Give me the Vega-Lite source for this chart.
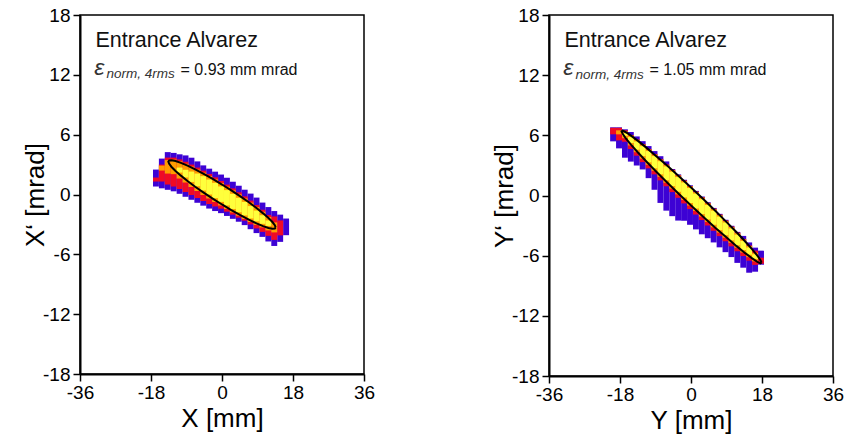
{
  "$schema": "https://vega.github.io/schema/vega-lite/v6.json",
  "padding": {"left": 21, "top": 5, "right": 5, "bottom": 0},
  "spacing": 114,
  "config": {
    "font": "Liberation Sans",
    "view": {"stroke": "#000", "strokeWidth": 1.5},
    "axis": {"domainColor": "#000", "domainWidth": 2, "tickColor": "#000", "tickWidth": 1.5, "tickSize": 7, "labelFontSize": 19, "labelColor": "#000", "titleFontSize": 26, "titleFontWeight": "normal", "titleColor": "#000", "grid": false, "labelFlush": false, "labelOverlap": false, "labelPadding": 2, "labelExpr": "'' + datum.value"},
    "axisX": {"titlePadding": 3},
    "axisY": {"titlePadding": -6, "labelPadding": 3}
  },
  "datasets": {
    "lcells": [
      {"a":-17.5,"b":-16,"l":1,"lo":0.8,"hi":2.5},
      {"a":-16,"b":-14.5,"l":1,"lo":0.62,"hi":3.6},
      {"a":-14.5,"b":-13,"l":1,"lo":0.47,"hi":4.25},
      {"a":-13,"b":-11.5,"l":1,"lo":0.32,"hi":4.17},
      {"a":-11.5,"b":-10,"l":1,"lo":0.07,"hi":4.03},
      {"a":-10,"b":-8.5,"l":1,"lo":-0.23,"hi":3.92},
      {"a":-8.5,"b":-7,"l":1,"lo":-0.53,"hi":3.69},
      {"a":-7,"b":-5.5,"l":1,"lo":-0.83,"hi":3.32},
      {"a":-5.5,"b":-4,"l":1,"lo":-1.12,"hi":2.92},
      {"a":-4,"b":-2.5,"l":1,"lo":-1.41,"hi":2.59},
      {"a":-2.5,"b":-1,"l":1,"lo":-1.66,"hi":2.29},
      {"a":-1,"b":0.5,"l":1,"lo":-1.87,"hi":2.0},
      {"a":0.5,"b":2,"l":1,"lo":-2.15,"hi":1.68},
      {"a":2,"b":3.5,"l":1,"lo":-2.44,"hi":1.28},
      {"a":3.5,"b":5,"l":1,"lo":-2.73,"hi":0.88},
      {"a":5,"b":6.5,"l":1,"lo":-3.07,"hi":0.48},
      {"a":6.5,"b":8,"l":1,"lo":-3.48,"hi":0.09},
      {"a":8,"b":9.5,"l":1,"lo":-3.87,"hi":-0.31},
      {"a":9.5,"b":11,"l":1,"lo":-4.25,"hi":-0.81},
      {"a":11,"b":12.5,"l":1,"lo":-4.71,"hi":-1.26},
      {"a":12.5,"b":14,"l":1,"lo":-5.16,"hi":-1.66},
      {"a":14,"b":15.5,"l":1,"lo":-4.75,"hi":-2.02},
      {"a":15.5,"b":17,"l":1,"lo":-4.08,"hi":-2.41},
      {"a":-17.5,"b":-16,"l":2,"lo":1.3,"hi":1.7},
      {"a":-16,"b":-14.5,"l":2,"lo":1.3,"hi":3.0},
      {"a":-14.5,"b":-13,"l":2,"lo":1.0,"hi":3.7},
      {"a":-13,"b":-11.5,"l":2,"lo":0.8,"hi":3.7},
      {"a":-11.5,"b":-10,"l":2,"lo":0.55,"hi":3.52},
      {"a":-10,"b":-8.5,"l":2,"lo":0.25,"hi":3.28},
      {"a":-8.5,"b":-7,"l":2,"lo":-0.05,"hi":3.0},
      {"a":-7,"b":-5.5,"l":2,"lo":-0.35,"hi":2.7},
      {"a":-5.5,"b":-4,"l":2,"lo":-0.65,"hi":2.39},
      {"a":-4,"b":-2.5,"l":2,"lo":-0.95,"hi":2.06},
      {"a":-2.5,"b":-1,"l":2,"lo":-1.2,"hi":1.72},
      {"a":-1,"b":0.5,"l":2,"lo":-1.42,"hi":1.36},
      {"a":0.5,"b":2,"l":2,"lo":-1.72,"hi":0.99},
      {"a":2,"b":3.5,"l":2,"lo":-2.02,"hi":0.61},
      {"a":3.5,"b":5,"l":2,"lo":-2.32,"hi":0.22},
      {"a":5,"b":6.5,"l":2,"lo":-2.62,"hi":-0.19},
      {"a":6.5,"b":8,"l":2,"lo":-3.0,"hi":-0.61},
      {"a":8,"b":9.5,"l":2,"lo":-3.4,"hi":-1.06},
      {"a":9.5,"b":11,"l":2,"lo":-3.75,"hi":-1.53},
      {"a":11,"b":12.5,"l":2,"lo":-4.15,"hi":-2.05},
      {"a":12.5,"b":14,"l":2,"lo":-4.55,"hi":-2.2},
      {"a":14,"b":15.5,"l":2,"lo":-4.1,"hi":-2.6},
      {"a":-16,"b":-14.5,"l":3,"lo":2.4,"hi":2.9},
      {"a":-14.5,"b":-13,"l":3,"lo":2.1,"hi":3.45},
      {"a":-13,"b":-11.5,"l":3,"lo":2.04,"hi":3.5},
      {"a":-11.5,"b":-10,"l":3,"lo":1.6,"hi":3.32},
      {"a":-10,"b":-8.5,"l":3,"lo":1.2,"hi":3.08},
      {"a":-8.5,"b":-7,"l":3,"lo":0.75,"hi":2.8},
      {"a":-7,"b":-5.5,"l":3,"lo":0.35,"hi":2.5},
      {"a":-5.5,"b":-4,"l":3,"lo":-0.05,"hi":2.19},
      {"a":-4,"b":-2.5,"l":3,"lo":-0.4,"hi":1.86},
      {"a":-2.5,"b":-1,"l":3,"lo":-0.75,"hi":1.52},
      {"a":-1,"b":0.5,"l":3,"lo":-1.1,"hi":1.16},
      {"a":0.5,"b":2,"l":3,"lo":-1.45,"hi":0.79},
      {"a":2,"b":3.5,"l":3,"lo":-1.8,"hi":0.41},
      {"a":3.5,"b":5,"l":3,"lo":-2.13,"hi":0.02},
      {"a":5,"b":6.5,"l":3,"lo":-2.45,"hi":-0.39},
      {"a":6.5,"b":8,"l":3,"lo":-2.76,"hi":-0.81},
      {"a":8,"b":9.5,"l":3,"lo":-3.05,"hi":-1.26},
      {"a":9.5,"b":11,"l":3,"lo":-3.3,"hi":-1.73},
      {"a":11,"b":12.5,"l":3,"lo":-3.6,"hi":-2.25},
      {"a":12.5,"b":14,"l":3,"lo":-3.8,"hi":-2.8},
      {"a":-11.5,"b":-10,"l":4,"lo":2.2,"hi":2.7},
      {"a":-10,"b":-8.5,"l":4,"lo":1.71,"hi":2.48},
      {"a":-8.5,"b":-7,"l":4,"lo":1.26,"hi":2.3},
      {"a":-7,"b":-5.5,"l":4,"lo":0.83,"hi":2.1},
      {"a":-5.5,"b":-4,"l":4,"lo":0.4,"hi":1.84},
      {"a":-4,"b":-2.5,"l":4,"lo":0.0,"hi":1.5},
      {"a":-2.5,"b":-1,"l":4,"lo":-0.37,"hi":1.17},
      {"a":-1,"b":0.5,"l":4,"lo":-0.74,"hi":0.81},
      {"a":0.5,"b":2,"l":4,"lo":-1.1,"hi":0.44},
      {"a":2,"b":3.5,"l":4,"lo":-1.45,"hi":0.06},
      {"a":3.5,"b":5,"l":4,"lo":-1.78,"hi":-0.33},
      {"a":5,"b":6.5,"l":4,"lo":-2.1,"hi":-0.74},
      {"a":6.5,"b":8,"l":4,"lo":-2.4,"hi":-1.16},
      {"a":8,"b":9.5,"l":4,"lo":-2.69,"hi":-1.61},
      {"a":9.5,"b":11,"l":4,"lo":-2.94,"hi":-2.08},
      {"a":11,"b":12.5,"l":4,"lo":-3.15,"hi":-2.6}
    ],
    "rcells": [
      {"a":-20.5,"b":-19,"l":1,"lo":5.4,"hi":6.8},
      {"a":-19,"b":-17.5,"l":1,"lo":4.7,"hi":6.8},
      {"a":-17.5,"b":-16,"l":1,"lo":3.77,"hi":6.6},
      {"a":-16,"b":-14.5,"l":1,"lo":3.38,"hi":6.33},
      {"a":-14.5,"b":-13,"l":1,"lo":2.99,"hi":5.89},
      {"a":-13,"b":-11.5,"l":1,"lo":2.6,"hi":5.42},
      {"a":-11.5,"b":-10,"l":1,"lo":1.73,"hi":4.93},
      {"a":-10,"b":-8.5,"l":1,"lo":0.57,"hi":4.43},
      {"a":-8.5,"b":-7,"l":1,"lo":-0.74,"hi":3.92},
      {"a":-7,"b":-5.5,"l":1,"lo":-1.51,"hi":3.4},
      {"a":-5.5,"b":-4,"l":1,"lo":-2.06,"hi":2.64},
      {"a":-4,"b":-2.5,"l":1,"lo":-2.5,"hi":2.11},
      {"a":-2.5,"b":-1,"l":1,"lo":-2.52,"hi":1.57},
      {"a":-1,"b":0.5,"l":1,"lo":-2.92,"hi":1.02},
      {"a":0.5,"b":2,"l":1,"lo":-3.38,"hi":0.46},
      {"a":2,"b":3.5,"l":1,"lo":-3.87,"hi":-0.1},
      {"a":3.5,"b":5,"l":1,"lo":-4.26,"hi":-0.67},
      {"a":5,"b":6.5,"l":1,"lo":-4.68,"hi":-1.24},
      {"a":6.5,"b":8,"l":1,"lo":-5.17,"hi":-1.83},
      {"a":8,"b":9.5,"l":1,"lo":-5.65,"hi":-2.42},
      {"a":9.5,"b":11,"l":1,"lo":-6.14,"hi":-3.02},
      {"a":11,"b":12.5,"l":1,"lo":-6.72,"hi":-3.63},
      {"a":12.5,"b":14,"l":1,"lo":-7.2,"hi":-4.03},
      {"a":14,"b":15.5,"l":1,"lo":-7.7,"hi":-4.68},
      {"a":15.5,"b":17,"l":1,"lo":-7.6,"hi":-5.2},
      {"a":17,"b":18.5,"l":1,"lo":-6.9,"hi":-5.5},
      {"a":-20.5,"b":-19,"l":2,"lo":6.1,"hi":6.75},
      {"a":-19,"b":-17.5,"l":2,"lo":5.5,"hi":6.75},
      {"a":-17.5,"b":-16,"l":2,"lo":5.36,"hi":6.5},
      {"a":-16,"b":-14.5,"l":2,"lo":4.64,"hi":6.03},
      {"a":-14.5,"b":-13,"l":2,"lo":3.97,"hi":5.59},
      {"a":-13,"b":-11.5,"l":2,"lo":3.33,"hi":5.12},
      {"a":-11.5,"b":-10,"l":2,"lo":2.71,"hi":4.63},
      {"a":-10,"b":-8.5,"l":2,"lo":2.11,"hi":4.13},
      {"a":-8.5,"b":-7,"l":2,"lo":1.51,"hi":3.62},
      {"a":-7,"b":-5.5,"l":2,"lo":0.92,"hi":3.1},
      {"a":-5.5,"b":-4,"l":2,"lo":0.34,"hi":2.57},
      {"a":-4,"b":-2.5,"l":2,"lo":-0.23,"hi":2.04},
      {"a":-2.5,"b":-1,"l":2,"lo":-0.79,"hi":1.5},
      {"a":-1,"b":0.5,"l":2,"lo":-1.35,"hi":0.95},
      {"a":0.5,"b":2,"l":2,"lo":-1.9,"hi":0.39},
      {"a":2,"b":3.5,"l":2,"lo":-2.45,"hi":-0.17},
      {"a":3.5,"b":5,"l":2,"lo":-2.99,"hi":-0.74},
      {"a":5,"b":6.5,"l":2,"lo":-3.52,"hi":-1.31},
      {"a":6.5,"b":8,"l":2,"lo":-4.05,"hi":-1.9},
      {"a":8,"b":9.5,"l":2,"lo":-4.56,"hi":-2.49},
      {"a":9.5,"b":11,"l":2,"lo":-5.07,"hi":-3.09},
      {"a":11,"b":12.5,"l":2,"lo":-5.56,"hi":-3.7},
      {"a":12.5,"b":14,"l":2,"lo":-6.04,"hi":-4.33},
      {"a":14,"b":15.5,"l":2,"lo":-6.5,"hi":-4.98},
      {"a":15.5,"b":17,"l":2,"lo":-6.92,"hi":-5.5},
      {"a":17,"b":18.5,"l":2,"lo":-6.8,"hi":-6.2},
      {"a":-19,"b":-17.5,"l":3,"lo":6.1,"hi":6.5},
      {"a":-17.5,"b":-16,"l":3,"lo":5.71,"hi":6.4},
      {"a":-16,"b":-14.5,"l":3,"lo":4.99,"hi":5.98},
      {"a":-14.5,"b":-13,"l":3,"lo":4.32,"hi":5.54},
      {"a":-13,"b":-11.5,"l":3,"lo":3.68,"hi":5.07},
      {"a":-11.5,"b":-10,"l":3,"lo":3.06,"hi":4.58},
      {"a":-10,"b":-8.5,"l":3,"lo":2.46,"hi":4.08},
      {"a":-8.5,"b":-7,"l":3,"lo":1.86,"hi":3.57},
      {"a":-7,"b":-5.5,"l":3,"lo":1.27,"hi":3.05},
      {"a":-5.5,"b":-4,"l":3,"lo":0.69,"hi":2.52},
      {"a":-4,"b":-2.5,"l":3,"lo":0.12,"hi":1.99},
      {"a":-2.5,"b":-1,"l":3,"lo":-0.44,"hi":1.45},
      {"a":-1,"b":0.5,"l":3,"lo":-1.0,"hi":0.9},
      {"a":0.5,"b":2,"l":3,"lo":-1.55,"hi":0.34},
      {"a":2,"b":3.5,"l":3,"lo":-2.1,"hi":-0.22},
      {"a":3.5,"b":5,"l":3,"lo":-2.64,"hi":-0.79},
      {"a":5,"b":6.5,"l":3,"lo":-3.17,"hi":-1.36},
      {"a":6.5,"b":8,"l":3,"lo":-3.7,"hi":-1.95},
      {"a":8,"b":9.5,"l":3,"lo":-4.21,"hi":-2.54},
      {"a":9.5,"b":11,"l":3,"lo":-4.72,"hi":-3.14},
      {"a":11,"b":12.5,"l":3,"lo":-5.21,"hi":-3.75},
      {"a":12.5,"b":14,"l":3,"lo":-5.69,"hi":-4.38},
      {"a":14,"b":15.5,"l":3,"lo":-6.15,"hi":-5.03},
      {"a":15.5,"b":17,"l":3,"lo":-6.57,"hi":-5.71},
      {"a":-17.5,"b":-16,"l":4,"lo":5.96,"hi":6.21},
      {"a":-16,"b":-14.5,"l":4,"lo":5.24,"hi":5.83},
      {"a":-14.5,"b":-13,"l":4,"lo":4.57,"hi":5.39},
      {"a":-13,"b":-11.5,"l":4,"lo":3.93,"hi":4.92},
      {"a":-11.5,"b":-10,"l":4,"lo":3.31,"hi":4.43},
      {"a":-10,"b":-8.5,"l":4,"lo":2.71,"hi":3.93},
      {"a":-8.5,"b":-7,"l":4,"lo":2.11,"hi":3.42},
      {"a":-7,"b":-5.5,"l":4,"lo":1.52,"hi":2.9},
      {"a":-5.5,"b":-4,"l":4,"lo":0.94,"hi":2.37},
      {"a":-4,"b":-2.5,"l":4,"lo":0.37,"hi":1.84},
      {"a":-2.5,"b":-1,"l":4,"lo":-0.19,"hi":1.3},
      {"a":-1,"b":0.5,"l":4,"lo":-0.75,"hi":0.75},
      {"a":0.5,"b":2,"l":4,"lo":-1.3,"hi":0.19},
      {"a":2,"b":3.5,"l":4,"lo":-1.85,"hi":-0.37},
      {"a":3.5,"b":5,"l":4,"lo":-2.39,"hi":-0.94},
      {"a":5,"b":6.5,"l":4,"lo":-2.92,"hi":-1.51},
      {"a":6.5,"b":8,"l":4,"lo":-3.45,"hi":-2.1},
      {"a":8,"b":9.5,"l":4,"lo":-3.96,"hi":-2.69},
      {"a":9.5,"b":11,"l":4,"lo":-4.47,"hi":-3.29},
      {"a":11,"b":12.5,"l":4,"lo":-4.96,"hi":-3.9},
      {"a":12.5,"b":14,"l":4,"lo":-5.44,"hi":-4.53},
      {"a":14,"b":15.5,"l":4,"lo":-5.9,"hi":-5.18},
      {"a":15.5,"b":17,"l":4,"lo":-6.32,"hi":-5.86}
    ],
    "lell": [
      {"t":0,"x":13.6,"y":-3.3},{"t":10,"x":13.39,"y":-3.08},{"t":20,"x":12.78,"y":-2.76},{"t":30,"x":11.78,"y":-2.36},
      {"t":40,"x":10.42,"y":-1.89},{"t":50,"x":8.74,"y":-1.36},{"t":60,"x":6.8,"y":-0.78},{"t":70,"x":4.65,"y":-0.19},
      {"t":80,"x":2.36,"y":0.41},{"t":90,"x":0,"y":1.0},{"t":100,"x":-2.36,"y":1.56},{"t":110,"x":-4.65,"y":2.07},
      {"t":120,"x":-6.8,"y":2.52},{"t":130,"x":-8.74,"y":2.89},{"t":140,"x":-10.42,"y":3.17},{"t":150,"x":-11.78,"y":3.36},
      {"t":160,"x":-12.78,"y":3.44},{"t":170,"x":-13.39,"y":3.42},{"t":180,"x":-13.6,"y":3.3},{"t":190,"x":-13.39,"y":3.08},
      {"t":200,"x":-12.78,"y":2.76},{"t":210,"x":-11.78,"y":2.36},{"t":220,"x":-10.42,"y":1.89},{"t":230,"x":-8.74,"y":1.36},
      {"t":240,"x":-6.8,"y":0.78},{"t":250,"x":-4.65,"y":0.19},{"t":260,"x":-2.36,"y":-0.41},{"t":270,"x":0,"y":-1.0},
      {"t":280,"x":2.36,"y":-1.56},{"t":290,"x":4.65,"y":-2.07},{"t":300,"x":6.8,"y":-2.52},{"t":310,"x":8.74,"y":-2.89},
      {"t":320,"x":10.42,"y":-3.17},{"t":330,"x":11.78,"y":-3.36},{"t":340,"x":12.78,"y":-3.44},{"t":350,"x":13.39,"y":-3.42},
      {"t":360,"x":13.6,"y":-3.3}
    ],
    "rell": [
      {"t":0,"x":17.9,"y":-6.7},{"t":10,"x":17.63,"y":-6.45},{"t":20,"x":16.83,"y":-6.0},{"t":30,"x":15.52,"y":-5.37},
      {"t":40,"x":13.75,"y":-4.59},{"t":50,"x":11.56,"y":-3.67},{"t":60,"x":9.03,"y":-2.65},{"t":70,"x":6.22,"y":-1.54},
      {"t":80,"x":3.23,"y":-0.4},{"t":90,"x":0.15,"y":0.75},{"t":100,"x":-2.93,"y":1.87},{"t":110,"x":-5.92,"y":2.94},
      {"t":120,"x":-8.73,"y":3.9},{"t":130,"x":-11.26,"y":4.75},{"t":140,"x":-13.45,"y":5.45},{"t":150,"x":-15.22,"y":5.97},
      {"t":160,"x":-16.53,"y":6.31},{"t":170,"x":-17.33,"y":6.46},{"t":180,"x":-17.6,"y":6.4},{"t":190,"x":-17.33,"y":6.15},
      {"t":200,"x":-16.53,"y":5.7},{"t":210,"x":-15.22,"y":5.07},{"t":220,"x":-13.45,"y":4.29},{"t":230,"x":-11.26,"y":3.37},
      {"t":240,"x":-8.73,"y":2.35},{"t":250,"x":-5.92,"y":1.24},{"t":260,"x":-2.93,"y":0.1},{"t":270,"x":0.15,"y":-1.05},
      {"t":280,"x":3.23,"y":-2.17},{"t":290,"x":6.22,"y":-3.24},{"t":300,"x":9.03,"y":-4.2},{"t":310,"x":11.56,"y":-5.05},
      {"t":320,"x":13.75,"y":-5.75},{"t":330,"x":15.52,"y":-6.27},{"t":340,"x":16.83,"y":-6.61},{"t":350,"x":17.63,"y":-6.76},
      {"t":360,"x":17.9,"y":-6.7}
    ],
    "head": [{"x":-32.1,"y":14.8,"t":"Entrance Alvarez"}],
    "eps": [{"x":-32.4,"y":12.0,"t":"ε"}],
    "sub": [{"x":-29.3,"y":11.65,"t":"norm, 4rms"}],
    "lval": [{"x":-10.5,"y":12.0,"t":"= 0.93 mm mrad"}],
    "rval": [{"x":-10.5,"y":12.0,"t":"= 1.05 mm mrad"}]
  },
  "hconcat": [
    {
      "width": 284, "height": 359,
      "layer": [
        {
          "data": {"name": "lcells"},
          "mark": {"type": "rect"},
          "encoding": {
            "x": {"field": "a", "type": "quantitative", "scale": {"domain": [-36, 36], "nice": false, "zero": false}, "axis": {"values": [-36, -18, 0, 18, 36], "title": "X [mm]"}},
            "x2": {"field": "b"},
            "y": {"field": "lo", "type": "quantitative", "scale": {"domain": [-18, 18], "nice": false, "zero": false}, "axis": {"values": [-18, -12, -6, 0, 6, 12, 18], "title": "X‘ [mrad]"}},
            "y2": {"field": "hi"},
            "color": {"field": "l", "type": "ordinal", "scale": {"domain": [1, 2, 3, 4], "range": ["#3d02d4", "#f00a24", "#ff9c00", "#ffff3c"]}, "legend": null}
          }
        },
        {
          "data": {"name": "lell"},
          "mark": {"type": "line", "color": "#000", "strokeWidth": 2},
          "encoding": {"x": {"field": "x", "type": "quantitative"}, "y": {"field": "y", "type": "quantitative"}, "order": {"field": "t", "type": "quantitative"}}
        },
        {
          "data": {"name": "head"},
          "mark": {"type": "text", "align": "left", "baseline": "alphabetic", "fontSize": 21.5, "color": "#111"},
          "encoding": {"x": {"field": "x", "type": "quantitative"}, "y": {"field": "y", "type": "quantitative"}, "text": {"field": "t"}}
        },
        {
          "data": {"name": "eps"},
          "mark": {"type": "text", "align": "left", "baseline": "alphabetic", "fontSize": 23, "fontStyle": "italic", "color": "#333"},
          "encoding": {"x": {"field": "x", "type": "quantitative"}, "y": {"field": "y", "type": "quantitative"}, "text": {"field": "t"}}
        },
        {
          "data": {"name": "sub"},
          "mark": {"type": "text", "align": "left", "baseline": "alphabetic", "fontSize": 13.5, "fontStyle": "italic", "color": "#333"},
          "encoding": {"x": {"field": "x", "type": "quantitative"}, "y": {"field": "y", "type": "quantitative"}, "text": {"field": "t"}}
        },
        {
          "data": {"name": "lval"},
          "mark": {"type": "text", "align": "left", "baseline": "alphabetic", "fontSize": 16, "color": "#111"},
          "encoding": {"x": {"field": "x", "type": "quantitative"}, "y": {"field": "y", "type": "quantitative"}, "text": {"field": "t"}}
        }
      ]
    },
    {
      "width": 284, "height": 361,
      "layer": [
        {
          "data": {"name": "rcells"},
          "mark": {"type": "rect"},
          "encoding": {
            "x": {"field": "a", "type": "quantitative", "scale": {"domain": [-36, 36], "nice": false, "zero": false}, "axis": {"values": [-36, -18, 0, 18, 36], "title": "Y [mm]"}},
            "x2": {"field": "b"},
            "y": {"field": "lo", "type": "quantitative", "scale": {"domain": [-18, 18], "nice": false, "zero": false}, "axis": {"values": [-18, -12, -6, 0, 6, 12, 18], "title": "Y‘ [mrad]"}},
            "y2": {"field": "hi"},
            "color": {"field": "l", "type": "ordinal", "scale": {"domain": [1, 2, 3, 4], "range": ["#3d02d4", "#f00a24", "#ff9c00", "#ffff3c"]}, "legend": null}
          }
        },
        {
          "data": {"name": "rell"},
          "mark": {"type": "line", "color": "#000", "strokeWidth": 2},
          "encoding": {"x": {"field": "x", "type": "quantitative"}, "y": {"field": "y", "type": "quantitative"}, "order": {"field": "t", "type": "quantitative"}}
        },
        {
          "data": {"name": "head"},
          "mark": {"type": "text", "align": "left", "baseline": "alphabetic", "fontSize": 21.5, "color": "#111"},
          "encoding": {"x": {"field": "x", "type": "quantitative"}, "y": {"field": "y", "type": "quantitative"}, "text": {"field": "t"}}
        },
        {
          "data": {"name": "eps"},
          "mark": {"type": "text", "align": "left", "baseline": "alphabetic", "fontSize": 23, "fontStyle": "italic", "color": "#333"},
          "encoding": {"x": {"field": "x", "type": "quantitative"}, "y": {"field": "y", "type": "quantitative"}, "text": {"field": "t"}}
        },
        {
          "data": {"name": "sub"},
          "mark": {"type": "text", "align": "left", "baseline": "alphabetic", "fontSize": 13.5, "fontStyle": "italic", "color": "#333"},
          "encoding": {"x": {"field": "x", "type": "quantitative"}, "y": {"field": "y", "type": "quantitative"}, "text": {"field": "t"}}
        },
        {
          "data": {"name": "rval"},
          "mark": {"type": "text", "align": "left", "baseline": "alphabetic", "fontSize": 16, "color": "#111"},
          "encoding": {"x": {"field": "x", "type": "quantitative"}, "y": {"field": "y", "type": "quantitative"}, "text": {"field": "t"}}
        }
      ]
    }
  ]
}
